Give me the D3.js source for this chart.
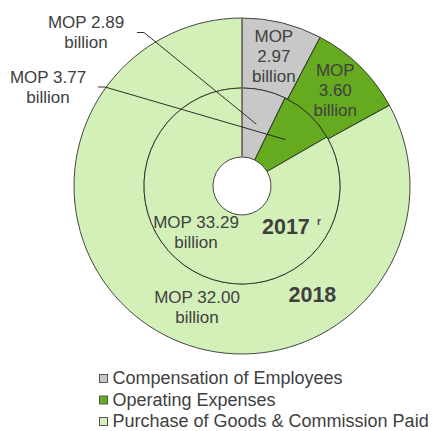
<!DOCTYPE html>
<html>
<head>
<meta charset="utf-8">
<script src="https://cdn.jsdelivr.net/npm/d3@7.9.0/dist/d3.min.js"></script>
<style>
  html, body { margin: 0; padding: 0; background: #fff; }
  svg text { font-family: "Liberation Sans", Arial, Helvetica, sans-serif; fill: #404040; }
</style>
</head>
<body>
<svg id="chart" width="443" height="431"></svg>
<script>
// --- DATA ---
const categories = ['Compensation of Employees', 'Operating Expenses', 'Purchase of Goods & Commission Paid'];
const values2018 = [2.97, 3.60, 32.00];
const values2017 = [2.89, 3.77, 33.29];
const labels2018 = ['2.97', '3.60', '32.00'];
const labels2017 = ['2.89', '3.77', '33.29'];
const colors = ['#c8c8c8', '#66ab1f', '#d4f0b9'];

const svg = d3.select('#chart');
const cx = 242, cy = 186;
const rHole = 29, rMid = 98, rOuter = 168;

const g = svg.append('g').attr('transform', `translate(${cx},${cy})`);

const pie = d3.pie().sort(null).value(d => d);
const innerArc = d3.arc().innerRadius(rHole).outerRadius(rMid);
const outerArc = d3.arc().innerRadius(rMid).outerRadius(rOuter);

const outerSlices = pie(values2018);
const innerSlices = pie(values2017);

// outer ring (2018)
g.selectAll('path.outer')
  .data(outerSlices)
  .join('path')
  .attr('class', 'outer')
  .attr('d', outerArc)
  .attr('fill', (d, i) => colors[i])
  .attr('stroke', '#1a1a1a')
  .attr('stroke-width', 0.8);

// inner ring (2017)
g.selectAll('path.inner')
  .data(innerSlices)
  .join('path')
  .attr('class', 'inner')
  .attr('d', innerArc)
  .attr('fill', (d, i) => colors[i])
  .attr('stroke', '#1a1a1a')
  .attr('stroke-width', 0.8);

// 12 o'clock edge looks grey in the original
g.append('line')
  .attr('x1', 0).attr('y1', -rHole)
  .attr('x2', 0).attr('y2', -rOuter)
  .attr('stroke', '#7a7a7a')
  .attr('stroke-width', 1.4);

// --- LABELS ---
function block(x, y, lines, anchor = 'middle') {
  const t = svg.append('text')
    .attr('x', x).attr('y', y)
    .attr('text-anchor', anchor)
    .attr('font-size', 17);
  lines.forEach((s, i) => {
    t.append('tspan').attr('x', x).attr('dy', i === 0 ? 0 : 20).text(s);
  });
}

// outer small slices sit on their centroids
[0, 1].forEach(i => {
  const [x, y] = outerArc.centroid(outerSlices[i]);
  block(cx + x, cy + y - 15, ['MOP', labels2018[i], 'billion']);
});

block(197, 303, ['MOP ' + labels2018[2], 'billion']);
block(196, 228, ['MOP ' + labels2017[2], 'billion']);

// inner small slices with leader lines
const leaderStarts = [[137, 32.5], [98, 87]];
const labelPos = [[86, 28], [48, 83]];
[0, 1].forEach(i => {
  const [x, y] = innerArc.centroid(innerSlices[i]);
  const [sx, sy] = leaderStarts[i];
  svg.append('polyline')
    .attr('points', `${sx},${sy} ${sx + 7},${sy} ${cx + x},${cy + y}`)
    .attr('fill', 'none')
    .attr('stroke', '#1a1a1a')
    .attr('stroke-width', 0.9);
  block(labelPos[i][0], labelPos[i][1], ['MOP ' + labels2017[i], 'billion']);
});

// year labels
svg.append('text')
  .attr('x', 262).attr('y', 234)
  .attr('font-size', 21.5).attr('font-weight', 'bold')
  .text('2017');
svg.append('text')
  .attr('x', 317).attr('y', 225)
  .attr('font-size', 10).attr('font-weight', 'bold')
  .text('r');
svg.append('text')
  .attr('x', 288.5).attr('y', 301.5)
  .attr('font-size', 21.5).attr('font-weight', 'bold')
  .text('2018');

// --- LEGEND ---
const legend = svg.append('g').attr('transform', 'translate(99,374)');
const row = legend.selectAll('g')
  .data(categories)
  .join('g')
  .attr('transform', (d, i) => `translate(0,${i * 21.5})`);
row.append('rect')
  .attr('x', 0.5).attr('y', 0.5)
  .attr('width', 8).attr('height', 8)
  .attr('fill', (d, i) => colors[i])
  .attr('stroke', '#555')
  .attr('stroke-width', 1);
row.append('text')
  .attr('x', 13.5).attr('y', 10)
  .attr('font-size', 18)
  .text(d => d);
</script>
</body>
</html>
